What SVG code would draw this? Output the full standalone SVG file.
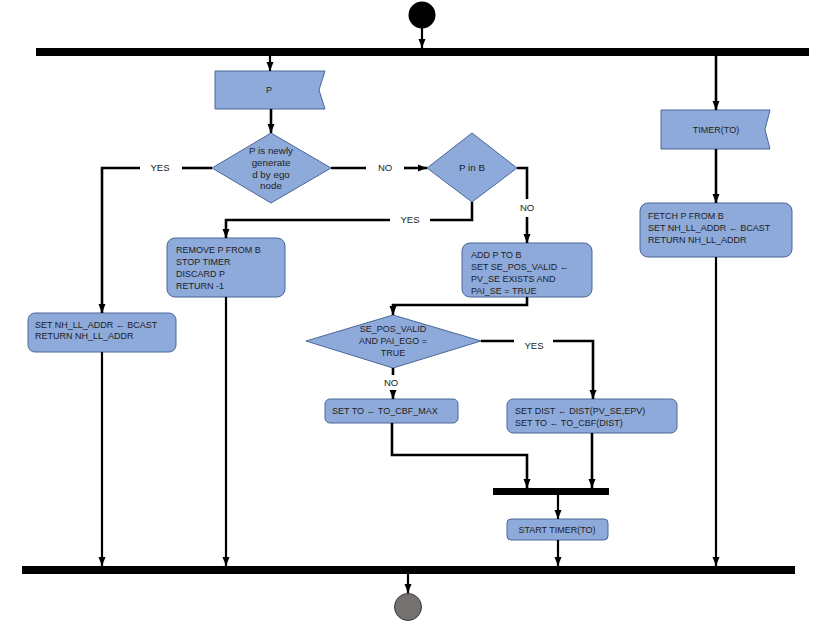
<svg xmlns="http://www.w3.org/2000/svg" width="830" height="623" viewBox="0 0 830 623">
<defs>
<marker id="ah" markerUnits="userSpaceOnUse" markerWidth="9" markerHeight="8" refX="9" refY="4" orient="auto">
<path d="M0,0.5 L9,4 L0,7.5 z" fill="#000"/>
</marker>
<style>
.box{fill:#8eaadb;stroke:#4a6796;stroke-width:1}
.bar{fill:#000}
.c{fill:none;stroke:#000;stroke-width:2.6}
.ca{fill:none;stroke:#000;stroke-width:2.6;marker-end:url(#ah)}
.cl{fill:none;stroke:#000;stroke-width:2.2;marker-end:url(#ah)}
.t{font-family:"Liberation Sans",Arial,sans-serif;font-size:9px;fill:#222}
.d{font-size:9.8px}
.m{text-anchor:middle}
.lb{font-family:"Liberation Sans",Arial,sans-serif;font-size:9.5px;fill:#222;text-anchor:middle}
</style>
</defs>
<rect width="830" height="623" fill="#fff"/>

<g id="start"><circle cx="422" cy="15" r="13.5" fill="#000"/></g>
<g id="forkTop"><rect class="bar" x="36" y="48" width="773" height="8"/></g>
<g id="forkBottom"><rect class="bar" x="22" y="566" width="773" height="8"/></g>
<g id="join"><rect class="bar" x="493" y="488" width="116" height="7"/></g>
<g id="end"><circle cx="408" cy="607" r="13.5" fill="#767171" stroke="#3a3a3a" stroke-width="1"/></g>

<g id="nodeP">
<path class="box" d="M215,71 H325 L319,90 L325,109 H215 Z"/>
<text class="t m" x="269" y="93">P</text>
</g>
<g id="nodeTimer">
<path class="box" d="M661,110 H770 L765,129.5 L770,149 H661 Z"/>
<text class="t m" x="716" y="133">TIMER(TO)</text>
</g>
<g id="decNew">
<polygon class="box" points="271,133 331,168 271,203 212,168"/>
<text class="t d m" x="271" y="154">P is newly</text>
<text class="t d m" x="271" y="166">generate</text>
<text class="t d m" x="271" y="178">d by ego</text>
<text class="t d m" x="271" y="189">node</text>
</g>
<g id="decInB">
<polygon class="box" points="472,133 517,168 472,202 427,168"/>
<text class="t d m" x="472" y="171">P in B</text>
</g>
<g id="nodeRemove">
<rect class="box" x="167" y="238" width="118" height="59" rx="8"/>
<text class="t" x="176" y="253">REMOVE P FROM B</text>
<text class="t" x="176" y="265">STOP TIMER</text>
<text class="t" x="176" y="277">DISCARD P</text>
<text class="t" x="176" y="289">RETURN -1</text>
</g>
<g id="nodeAdd">
<rect class="box" x="462" y="243" width="130" height="54" rx="8"/>
<text class="t" x="471" y="258">ADD P TO B</text>
<text class="t" x="471" y="270">SET SE_POS_VALID ←</text>
<text class="t" x="471" y="282">PV_SE EXISTS AND</text>
<text class="t" x="471" y="294">PAI_SE = TRUE</text>
</g>
<g id="nodeBcast">
<rect class="box" x="28" y="313" width="148" height="39" rx="7"/>
<text class="t" x="35" y="328">SET NH_LL_ADDR ← BCAST</text>
<text class="t" x="35" y="339">RETURN NH_LL_ADDR</text>
</g>
<g id="nodeFetch">
<rect class="box" x="640" y="203" width="152" height="54" rx="8"/>
<text class="t" x="648" y="219">FETCH P FROM B</text>
<text class="t" x="648" y="231">SET NH_LL_ADDR ← BCAST</text>
<text class="t" x="648" y="243">RETURN NH_LL_ADDR</text>
</g>
<g id="decPos">
<polygon class="box" points="393,315 481,341 393,368 306,341"/>
<text class="t m" x="393" y="332">SE_POS_VALID</text>
<text class="t m" x="393" y="344">AND PAI_EGO =</text>
<text class="t m" x="393" y="356">TRUE</text>
</g>
<g id="nodeMax">
<rect class="box" x="325" y="399" width="133" height="24" rx="5"/>
<text class="t" x="332" y="414">SET TO ← TO_CBF_MAX</text>
</g>
<g id="nodeDist">
<rect class="box" x="507" y="399" width="170" height="34" rx="6"/>
<text class="t" x="515" y="414">SET DIST ← DIST(PV_SE,EPV)</text>
<text class="t" x="515" y="426">SET TO ← TO_CBF(DIST)</text>
</g>
<g id="nodeStart">
<rect class="box" x="507" y="519" width="101" height="21" rx="4"/>
<text class="t m" x="557" y="533">START TIMER(TO)</text>
</g>

<g id="connectors">
<line class="cl" x1="422" y1="28" x2="422" y2="48"/>
<line class="cl" x1="270" y1="56" x2="270" y2="71"/>
<line class="ca" x1="716" y1="56" x2="716" y2="110"/>
<line class="ca" x1="271" y1="109" x2="271" y2="133"/>
<polyline class="c" points="212,168 182,168"/>
<text class="lb" x="160" y="171">YES</text>
<polyline class="ca" points="140,168 102,168 102,313"/>
<polyline class="c" points="331,168 366,168"/>
<text class="lb" x="385" y="171">NO</text>
<polyline class="ca" points="404,168 427,168"/>
<polyline class="c" points="517,168 527,168 527,199"/>
<text class="lb" x="527" y="211">NO</text>
<polyline class="ca" points="527,217 527,243"/>
<polyline class="c" points="472,202 472,220 430,220"/>
<text class="lb" x="410" y="223">YES</text>
<polyline class="ca" points="390,220 226,220 226,238"/>
<line class="ca" x1="716" y1="149" x2="716" y2="203"/>
<line class="cl" x1="716" y1="257" x2="716" y2="566"/>
<line class="cl" x1="102" y1="352" x2="102" y2="566"/>
<line class="cl" x1="226" y1="297" x2="226" y2="566"/>
<polyline class="ca" points="527,297 527,305 393,305 393,315"/>
<polyline class="c" points="481,341 514,341"/>
<text class="lb" x="534" y="349">YES</text>
<polyline class="ca" points="553,341 593,341 593,399"/>
<polyline class="c" points="393,368 393,375"/>
<text class="lb" x="391" y="386">NO</text>
<polyline class="ca" points="393,390 393,399"/>
<polyline class="ca" points="392,423 392,455 527,455 527,488"/>
<line class="ca" x1="592" y1="433" x2="592" y2="488"/>
<line class="cl" x1="558" y1="495" x2="558" y2="519"/>
<line class="cl" x1="558" y1="540" x2="558" y2="566"/>
<line class="cl" x1="408" y1="574" x2="408" y2="593"/>
</g>
</svg>
